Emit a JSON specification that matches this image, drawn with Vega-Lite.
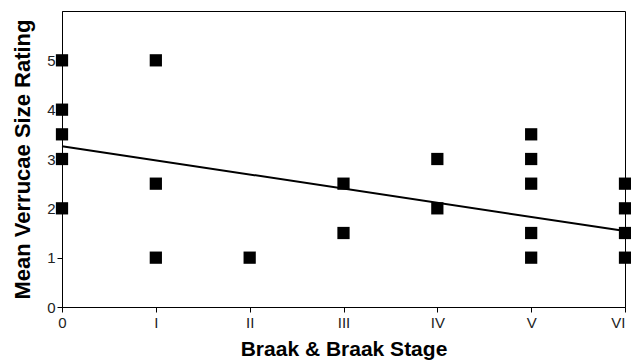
{
  "$schema": "https://vega.github.io/schema/vega-lite/v6.json",
  "width": 563,
  "height": 296,
  "autosize": "none",
  "padding": {"left": 62, "top": 11, "right": 6, "bottom": 54},
  "background": "white",
  "config": {
    "view": {"stroke": "black", "strokeWidth": 1},
    "font": "Liberation Sans",
    "axis": {
      "domainColor": "black",
      "tickColor": "black",
      "labelColor": "#222222",
      "titleColor": "black",
      "grid": false,
      "labelFont": "Liberation Sans",
      "titleFont": "Liberation Sans",
      "titleFontWeight": "bold",
      "tickSize": 5
    }
  },
  "datasets": {
    "points": [
      {"stage": 0, "rating": 5}, {"stage": 0, "rating": 4}, {"stage": 0, "rating": 3.5}, {"stage": 0, "rating": 3}, {"stage": 0, "rating": 2},
      {"stage": 1, "rating": 5}, {"stage": 1, "rating": 2.5}, {"stage": 1, "rating": 1},
      {"stage": 2, "rating": 1},
      {"stage": 3, "rating": 2.5}, {"stage": 3, "rating": 1.5},
      {"stage": 4, "rating": 3}, {"stage": 4, "rating": 2},
      {"stage": 5, "rating": 3.5}, {"stage": 5, "rating": 3}, {"stage": 5, "rating": 2.5}, {"stage": 5, "rating": 1.5}, {"stage": 5, "rating": 1},
      {"stage": 6, "rating": 2.5}, {"stage": 6, "rating": 2}, {"stage": 6, "rating": 1.5}, {"stage": 6, "rating": 1}
    ],
    "trend": [
      {"stage": 0, "rating": 3.26},
      {"stage": 6, "rating": 1.54}
    ]
  },
  "layer": [
    {
      "data": {"name": "trend"},
      "mark": {"type": "line", "color": "black", "strokeWidth": 2, "clip": false},
      "encoding": {
        "x": {"field": "stage", "type": "quantitative"},
        "y": {"field": "rating", "type": "quantitative"}
      }
    },
    {
      "data": {"name": "points"},
      "mark": {"type": "square", "color": "black", "opacity": 1, "filled": true, "size": 150, "clip": false},
      "encoding": {
        "x": {
          "field": "stage",
          "type": "quantitative",
          "scale": {"domain": [0, 6], "nice": false, "zero": false},
          "axis": {
            "title": "Braak & Braak Stage",
            "titleFontSize": 21,
            "labelFontSize": 15,
            "values": [0, 1, 2, 3, 4, 5, 6],
            "labelExpr": "['0','I','II','III','IV','V','VI'][datum.value]",
            "labelAlign": {"condition": {"test": "datum.value == 6", "value": "right"}, "value": "center"},
            "labelPadding": 3,
            "titlePadding": 8,
            "labelFlush": false
          }
        },
        "y": {
          "field": "rating",
          "type": "quantitative",
          "scale": {"domain": [0, 6], "nice": false},
          "axis": {
            "title": "Mean Verrucae Size Rating",
            "titleFontSize": 22,
            "labelFontSize": 15,
            "values": [0, 1, 2, 3, 4, 5],
            "labelPadding": 2,
            "titlePadding": 12
          }
        }
      }
    }
  ]
}
